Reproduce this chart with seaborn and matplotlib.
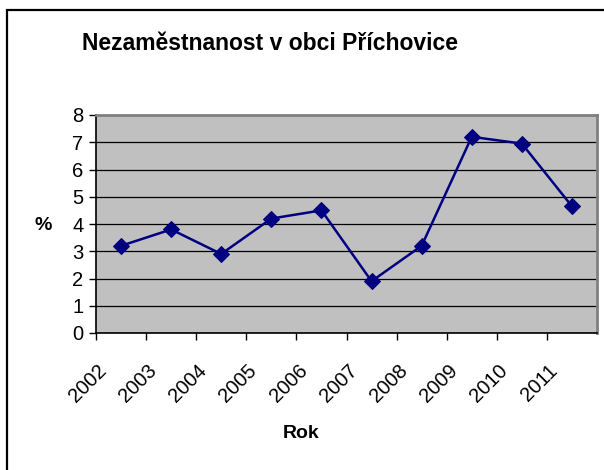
import pandas as pd
import seaborn as sns
import matplotlib.pyplot as plt
from matplotlib.patches import Rectangle
from matplotlib.transforms import ScaledTranslation

# Data
years = ['2002', '2003', '2004', '2005', '2006', '2007', '2008', '2009', '2010', '2011']
unemployment = [3.2, 3.8, 2.9, 4.2, 4.5, 1.9, 3.2, 7.2, 6.95, 4.65]

df = pd.DataFrame({'pos': range(len(years)), 'rok': years, 'pct': unemployment})

sns.set_style('white')
plt.rcParams['font.family'] = ['Liberation Sans', 'DejaVu Sans']
plt.rcParams.update({'text.color': 'black', 'xtick.color': 'black',
                     'ytick.color': 'black', 'axes.labelcolor': 'black'})

fig = plt.figure(figsize=(6.04, 4.70), dpi=100)
ax = fig.add_axes([96 / 604, 1 - 333 / 470, (597 - 96) / 604, (333 - 115) / 470])
ax.set_facecolor('#C0C0C0')

sns.lineplot(data=df, x='pos', y='pct', ax=ax, color='#000080', linewidth=1.8,
             marker='D', markersize=8.5, markeredgecolor='#000080', zorder=3)

ax.set_xlim(-0.5, len(years) - 0.5)
ax.set_ylim(0, 8)
ax.set_yticks(range(0, 9))
ax.yaxis.grid(True, color='black', linewidth=0.9)
ax.set_axisbelow(True)

# category boundaries get the tick marks, labels sit at the centres
ax.set_xticks([i - 0.5 for i in range(len(years))])
ax.set_xticklabels([])
ax.set_xticks(df['pos'], minor=True)
ax.set_xticklabels(years, minor=True, rotation=45, ha='right', va='top',
                   rotation_mode='anchor', fontsize=14.5)
ax.tick_params(axis='x', which='major', direction='out', length=5, width=1, color='black', bottom=True)
ax.tick_params(axis='x', which='minor', length=0, pad=20, bottom=True)
ax.tick_params(axis='y', direction='out', length=5, width=1, color='black', labelsize=14.5, left=True, pad=4)
shift = ScaledTranslation(-24 / 100, 0, fig.dpi_scale_trans)
for lbl in ax.xaxis.get_minorticklabels():
    lbl.set_transform(lbl.get_transform() + shift)

for side in ['top', 'right']:
    ax.spines[side].set_color('#808080')
    ax.spines[side].set_linewidth(2)
for side in ['left', 'bottom']:
    ax.spines[side].set_color('black')
    ax.spines[side].set_linewidth(1.2)

ax.set_xlabel('')
ax.set_ylabel('')
fig.text(43 / 604, 1 - 225 / 470, '%', fontsize=14, fontweight='bold', ha='center', va='center')
fig.text(301 / 604, 1 - 433 / 470, 'Rok', fontsize=14, fontweight='bold', ha='center', va='center')
fig.text(270 / 604, 1 - 44 / 470, 'Nezaměstnanost v obci Příchovice', fontsize=16.5,
         fontweight='bold', ha='center', va='center')

# chart border
fig.patches.append(Rectangle((6.5 / 604, -0.1), 1.2, 1.1 - 10 / 470, transform=fig.transFigure,
                             fill=False, edgecolor='black', linewidth=1.6, clip_on=False))

fig.savefig('out.png', dpi=100)
